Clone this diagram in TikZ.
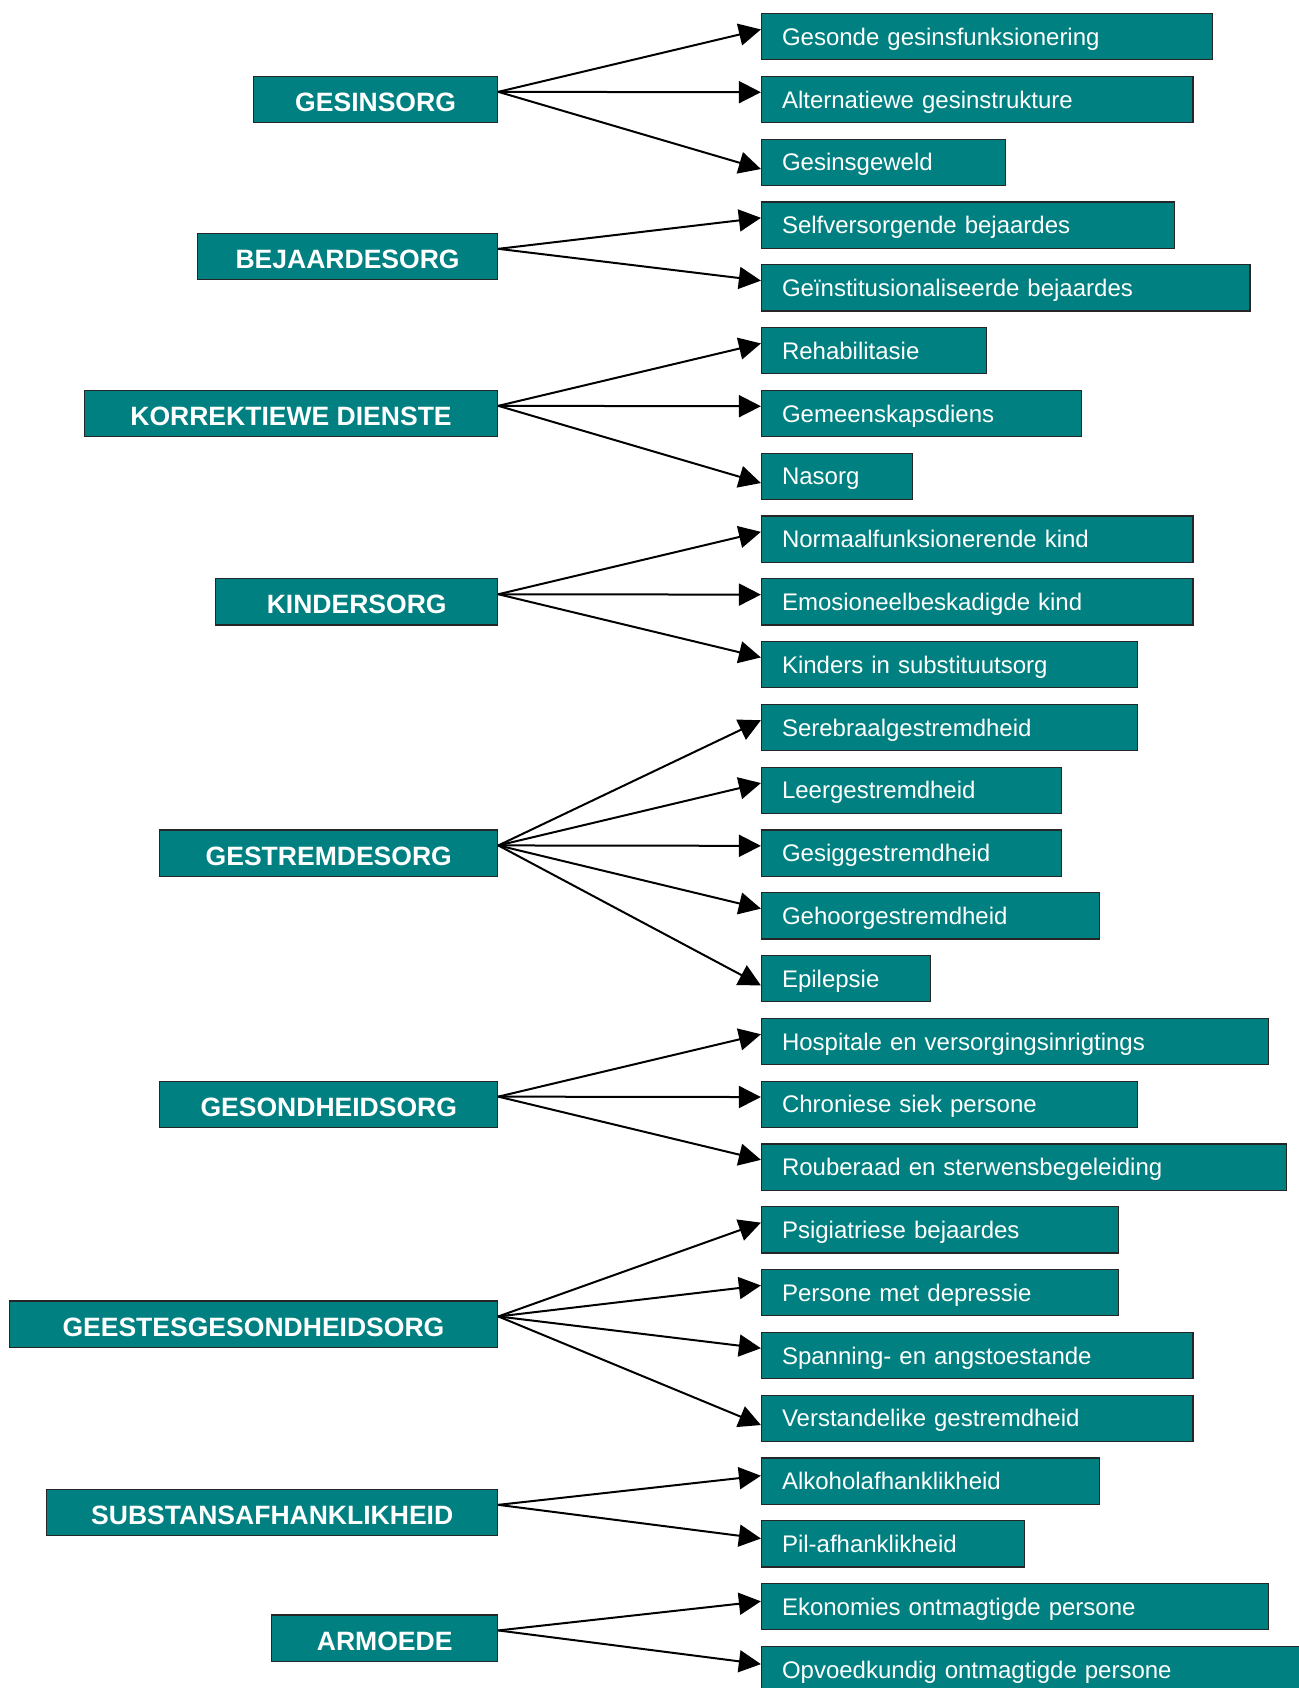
\documentclass[tikz,border=0pt]{standalone}
\usepackage{fontspec}
\setmainfont{Liberation Sans}
\usetikzlibrary{arrows.meta,positioning}
\definecolor{boxteal}{RGB}{0,128,128}
\tikzset{
  area/.style={draw=black!85, line width=0.9pt, fill=boxteal, text=white, anchor=north east,
    align=center, minimum height=34.7pt, inner ysep=1pt, minimum width=#1,
    font=\fontsize{19.9}{24}\selectfont\bfseries, text height=18pt, text depth=0pt},
  sub/.style={draw=black!85, line width=0.9pt, fill=boxteal, text=white, anchor=north west,
    align=left, minimum height=34.7pt, inner ysep=1pt, inner xsep=15.4pt, text width=#1,
    font=\fontsize{18}{22}\selectfont, text height=12.9pt, text depth=0pt},
  arrow/.style={-{Triangle[length=16.5pt,width=16.5pt]}, line width=1.5pt}
}
\newcommand{\outof}[1]{([yshift=5.7pt]#1.east)}
\newcommand{\into}[2]{([yshift=#2]#1.west)}

\begin{document}
\begin{tikzpicture}[x=0.75pt, y=-0.75pt]
  \useasboundingbox[fill=white] (0,0) rectangle (1299,1688);
  % main areas
  \node[area=183.2pt] (gesin) at (498.3,75.7) {GESINSORG};
  \node[area=225.2pt] (bejaard) at (498.3,232.7) {BEJAARDESORG};
  \node[area=310pt] (korrek) at (498.3,389.7) {KORREKTIEWE DIENSTE};
  \node[area=211.5pt] (kinder) at (498.3,578.1) {KINDERSORG};
  \node[area=253.4pt] (gestrem) at (498.3,829.3) {GESTREMDESORG};
  \node[area=253.4pt] (gesond) at (498.3,1080.5) {GESONDHEIDSORG};
  \node[area=366.4pt] (geestes) at (498.3,1300.3) {GEESTESGESONDHEIDSORG};
  \node[area=338.2pt] (substans) at (498.3,1488.7) {SUBSTANSAFHANKLIKHEID};
  \node[area=169.5pt] (armoede) at (498.3,1614.3) {ARMOEDE};
  % sub areas
  \node[sub=307.4pt] (s1) at (760.9,12.9) {Gesonde gesinsfunksionering};
  \node[sub=292.8pt] (s2) at (760.9,75.7) {Alternatiewe gesinstrukture};
  \node[sub=152.4pt] (s3) at (760.9,138.5) {Gesinsgeweld};
  \node[sub=279.1pt] (s4) at (760.9,201.3) {Selfversorgende bejaardes};
  \node[sub=335.6pt] (s5) at (760.9,264.1) {Geïnstitusionaliseerde bejaardes};
  \node[sub=137.9pt] (s6) at (760.9,326.9) {Rehabilitasie};
  \node[sub=208.9pt] (s7) at (760.9,389.7) {Gemeenskapsdiens};
  \node[sub=82.2pt] (s8) at (760.9,452.5) {Nasorg};
  \node[sub=292.8pt] (s9) at (760.9,515.3) {Normaalfunksionerende kind};
  \node[sub=292.8pt] (s10) at (760.9,578.1) {Emosioneelbeskadigde kind};
  \node[sub=250.9pt] (s11) at (760.9,640.9) {Kinders in substituutsorg};
  \node[sub=250.9pt] (s12) at (760.9,703.7) {Serebraalgestremdheid};
  \node[sub=194.4pt] (s13) at (760.9,766.5) {Leergestremdheid};
  \node[sub=194.4pt] (s14) at (760.9,829.3) {Gesiggestremdheid};
  \node[sub=222.6pt] (s15) at (760.9,892.1) {Gehoorgestremdheid};
  \node[sub=95.9pt] (s16) at (760.9,954.9) {Epilepsie};
  \node[sub=349.4pt] (s17) at (760.9,1017.7) {Hospitale en versorgingsinrigtings};
  \node[sub=250.9pt] (s18) at (760.9,1080.5) {Chroniese siek persone};
  \node[sub=363.1pt] (s19) at (760.9,1143.3) {Rouberaad en sterwensbegeleiding};
  \node[sub=237.2pt] (s20) at (760.9,1206.1) {Psigiatriese bejaardes};
  \node[sub=237.2pt] (s21) at (760.9,1268.9) {Persone met depressie};
  \node[sub=292.8pt] (s22) at (760.9,1331.7) {Spanning- en angstoestande};
  \node[sub=292.8pt] (s23) at (760.9,1394.5) {Verstandelike gestremdheid};
  \node[sub=222.6pt] (s24) at (760.9,1457.3) {Alkoholafhanklikheid};
  \node[sub=166.2pt] (s25) at (760.9,1520.1) {Pil-afhanklikheid};
  \node[sub=349.4pt] (s26) at (760.9,1582.9) {Ekonomies ontmagtigde persone};
  \node[sub=381pt] (s27) at (760.9,1645.7) {Opvoedkundig ontmagtigde persone};
  % connectors
  \draw[arrow] \outof{gesin} -- \into{s1}{5.4pt};
  \draw[arrow] \outof{gesin} -- \into{s2}{5.4pt};
  \draw[arrow] \outof{gesin} -- \into{s3}{-5.1pt};
  \draw[arrow] \outof{bejaard} -- \into{s4}{5.4pt};
  \draw[arrow] \outof{bejaard} -- \into{s5}{5.4pt};
  \draw[arrow] \outof{korrek} -- \into{s6}{5.4pt};
  \draw[arrow] \outof{korrek} -- \into{s7}{5.4pt};
  \draw[arrow] \outof{korrek} -- \into{s8}{-5.1pt};
  \draw[arrow] \outof{kinder} -- \into{s9}{5.4pt};
  \draw[arrow] \outof{kinder} -- \into{s10}{5.4pt};
  \draw[arrow] \outof{kinder} -- \into{s11}{5.4pt};
  \draw[arrow] \outof{gestrem} -- \into{s12}{5.4pt};
  \draw[arrow] \outof{gestrem} -- \into{s13}{5.4pt};
  \draw[arrow] \outof{gestrem} -- \into{s14}{5.4pt};
  \draw[arrow] \outof{gestrem} -- \into{s15}{5.4pt};
  \draw[arrow] \outof{gestrem} -- \into{s16}{-5.1pt};
  \draw[arrow] \outof{gesond} -- \into{s17}{5.4pt};
  \draw[arrow] \outof{gesond} -- \into{s18}{5.4pt};
  \draw[arrow] \outof{gesond} -- \into{s19}{5.4pt};
  \draw[arrow] \outof{geestes} -- \into{s20}{5.4pt};
  \draw[arrow] \outof{geestes} -- \into{s21}{5.4pt};
  \draw[arrow] \outof{geestes} -- \into{s22}{5.4pt};
  \draw[arrow] \outof{geestes} -- \into{s23}{-5.1pt};
  \draw[arrow] \outof{substans} -- \into{s24}{4pt};
  \draw[arrow] \outof{substans} -- \into{s25}{4pt};
  \draw[arrow] \outof{armoede} -- \into{s26}{4pt};
  \draw[arrow] \outof{armoede} -- \into{s27}{4pt};
\end{tikzpicture}
\end{document}
